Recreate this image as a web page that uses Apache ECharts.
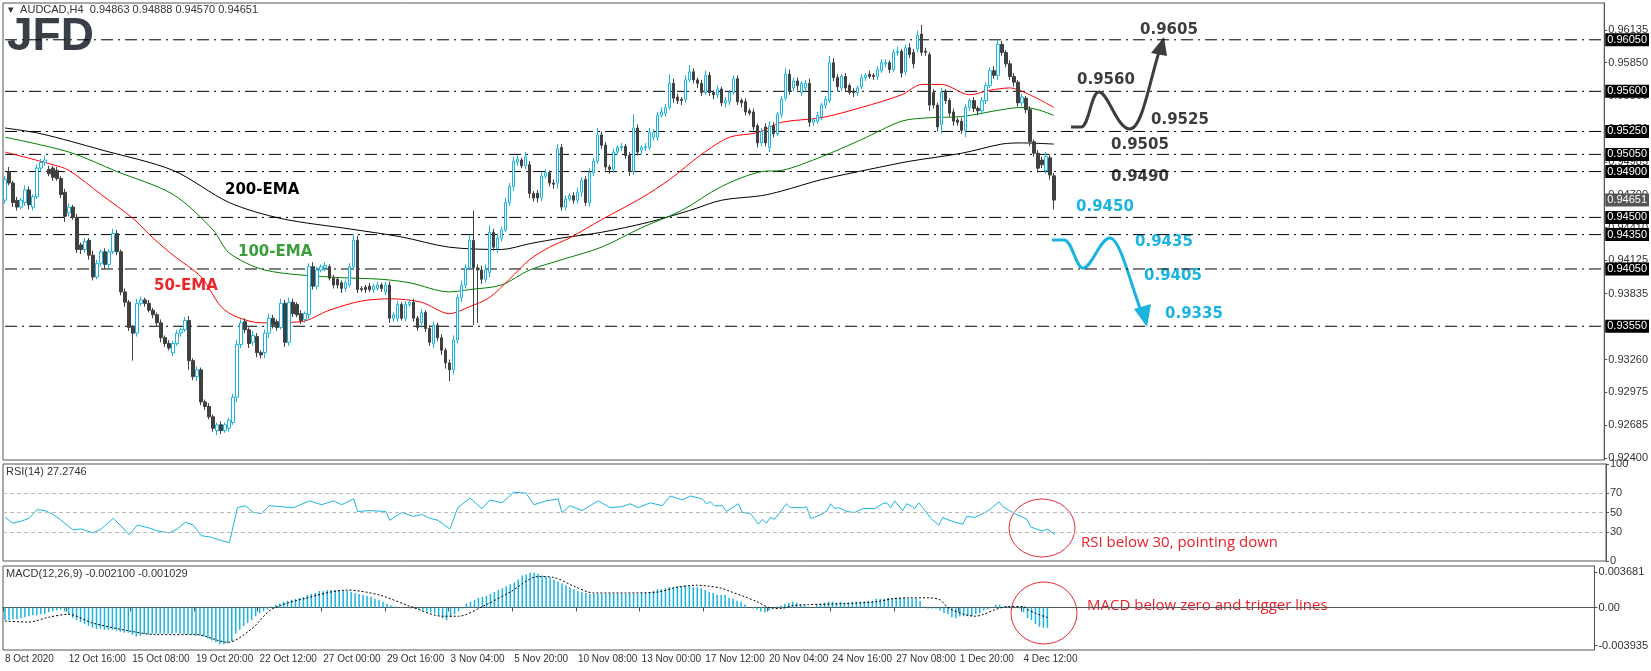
<!DOCTYPE html>
<html>
<head>
<meta charset="utf-8">
<script src="https://cdn.jsdelivr.net/npm/echarts@6/dist/echarts.min.js"></script>
<style>html,body{margin:0;padding:0;background:#fff}#chart{width:1651px;height:671px}</style>
</head>
<body>
<div id="chart"></div>
<script>
// AUDCAD H4 candles, 8 Oct - 4 Dec 2020
const opens = [
.9465,.9490,.9480,.9465,.9459,.9463,.9474,.9459,.9468,.9493,
.9498,.9492,.9493,.9491,.9484,.9472,.9454,.9459,.9450,.9426,
.9422,.9430,.9417,.9398,.9410,.9420,.9409,.9420,.9436,.9420,
.9385,.9376,.9354,.9349,.9375,.9378,.9375,.9369,.9365,.9358,
.9345,.9340,.9332,.9340,.9349,.9352,.9360,.9325,.9311,.9317,
.9289,.9285,.9276,.9264,.9269,.9264,.9266,.9271,.9293,.9339,
.9359,.9352,.9341,.9346,.9332,.9332,.9349,.9362,.9359,.9354,
.9375,.9341,.9376,.9374,.9366,.9361,.9365,.9407,.9390,.9404,
.9406,.9407,.9397,.9396,.9393,.9388,.9391,.9407,.9430,.9388,
.9389,.9390,.9387,.9388,.9391,.9385,.9391,.9362,.9362,.9374,
.9362,.9374,.9376,.9362,.9358,.9367,.9353,.9340,.9356,.9345,
.9334,.9323,.9317,.9343,.9380,.9391,.9406,.9430,.9406,.9404,
.9396,.9402,.9437,.9423,.9432,.9439,.9463,.9477,.9498,.9500,
.9495,.9496,.9471,.9471,.9467,.9486,.9489,.9480,.9480,.9511,
.9459,.9466,.9469,.9465,.9472,.9483,.9463,.9489,.9499,.9522,
.9513,.9494,.9492,.9507,.9511,.9512,.9504,.9490,.9528,.9509,
.9511,.9511,.9520,.9520,.9539,.9541,.9546,.9567,.9555,.9553,
.9553,.9570,.9577,.9570,.9567,.9559,.9574,.9559,.9557,.9562,
.9550,.9551,.9559,.9571,.9552,.9551,.9543,.9542,.9530,.9515,
.9529,.9511,.9530,.9523,.9540,.9554,.9575,.9563,.9569,.9559,
.9563,.9567,.9533,.9534,.9538,.9548,.9552,.9585,.9572,.9563,
.9573,.9565,.9560,.9559,.9564,.9572,.9575,.9574,.9573,.9578,
.9584,.9585,.9579,.9594,.9595,.9577,.9598,.9594,.9597,.9610,
.9595,.9592,.9559,.9548,.9531,.9559,.9552,.9542,.9535,.9534,
.9526,.9546,.9552,.9545,.9543,.9552,.9565,.9578,.9574,.9601,
.9594,.9584,.9573,.9568,.9550,.9554,.9544,.9516,.9506,.9500,
.9491,.9502,.94863];
const closes = [
.9483,.9480,.9463,.9459,.9465,.9474,.9461,.9468,.9493,.9498,
.9500,.9488,.9485,.9484,.9470,.9451,.9459,.9450,.9422,.9422,
.9429,.9417,.9398,.9410,.9420,.9409,.9420,.9436,.9420,.9385,
.9376,.9354,.9349,.9375,.9378,.9375,.9369,.9365,.9358,.9345,
.9340,.9336,.9340,.9349,.9352,.9360,.9325,.9311,.9317,.9289,
.9285,.9276,.9266,.9269,.9264,.9269,.9273,.9293,.9339,.9358,
.9352,.9340,.9347,.9332,.9330,.9349,.9362,.9356,.9354,.9375,
.9341,.9376,.9366,.9365,.9360,.9366,.9407,.9390,.9404,.9407,
.9408,.9397,.9391,.9391,.9388,.9393,.9407,.9430,.9387,.9387,
.9387,.9387,.9390,.9391,.9388,.9391,.9362,.9365,.9374,.9362,
.9374,.9376,.9362,.9354,.9367,.9353,.9341,.9356,.9345,.9334,
.9323,.9317,.9343,.9380,.9391,.9406,.9430,.9406,.9404,.9396,
.9404,.9437,.9424,.9432,.9439,.9463,.9477,.9499,.9501,.9495,
.9503,.9471,.9467,.9467,.9486,.9489,.9480,.9479,.9510,.9459,
.9466,.9469,.9465,.9472,.9482,.9463,.9489,.9499,.9522,.9513,
.9494,.9492,.9507,.9511,.9512,.9504,.9490,.9528,.9507,.9511,
.9512,.9524,.9524,.9539,.9542,.9546,.9567,.9554,.9552,.9552,
.9570,.9577,.9570,.9567,.9559,.9574,.9559,.9557,.9562,.9550,
.9552,.9559,.9571,.9551,.9550,.9542,.9541,.9529,.9515,.9525,
.9515,.9530,.9523,.9540,.9553,.9575,.9560,.9569,.9565,.9567,
.9567,.9533,.9535,.9539,.9548,.9553,.9585,.9572,.9564,.9573,
.9563,.9559,.9559,.9563,.9572,.9574,.9573,.9573,.9579,.9585,
.9585,.9579,.9594,.9595,.9576,.9598,.9592,.9584,.9609,.9594,
.9594,.9548,.9548,.9529,.9559,.9552,.9541,.9534,.9533,.9526,
.9546,.9552,.9545,.9543,.9552,.9565,.9578,.9574,.9601,.9594,
.9584,.9573,.9568,.9550,.9555,.9544,.9516,.9506,.9493,.9496,
.9503,.9487,.94651];
// wick lengths above / below the body, in pips
const wickUp = [
3,4,2,3,2,4,3,2,3,3, 4,3,2,3,2,3,3,2,3,2, 3,2,4,3,2,3,2,4,3,2, 3,2,2,4,3,2,3,2,2,3,
2,3,2,3,2,3,4,2,3,2, 2,3,2,2,3,2,2,3,4,3, 3,2,4,3,2,3,4,3,2,4, 3,4,3,2,3,2,3,4,3,2,
3,2,3,2,2,3,3,5,4,2, 2,3,2,3,2,3,3,2,3,2, 3,2,3,2,3,2,3,3,2,3, 2,3,4,3,4,3,5,26,3,4,
5,6,3,4,3,4,3,4,3,2, 4,3,2,3,4,3,2,3,4,3, 3,2,3,4,3,3,4,3,6,3, 3,2,3,2,3,2,3,12,3,2,
3,4,3,3,4,3,8,4,3,2, 4,6,3,2,3,4,3,2,3,2, 3,2,3,3,2,3,2,3,2,3, 3,4,3,2,3,5,4,3,3,2,
3,4,2,3,2,3,6,4,3,2, 3,2,3,2,3,2,3,2,3,3, 3,2,3,4,2,3,4,3,4,8, 3,2,3,2,4,3,2,3,2,3,
3,2,3,2,3,3,3,4,5,3, 2,3,3,2,3,2,3,2,3,3, 4,3,2.5];
const wickDown = [
3,2,4,3,2,3,4,3,2,3, 3,2,3,2,3,5,3,2,3,4, 3,4,3,2,3,4,3,2,3,3, 4,3,24,3,2,3,2,3,3,4,
3,2,3,2,3,2,8,3,4,3, 3,2,3,4,3,2,3,2,4,3, 3,4,3,4,3,5,4,3,3,2, 4,3,3,2,3,3,4,3,3,2,
3,2,3,3,4,3,2,3,3,2, 3,2,3,2,3,3,4,3,3,2, 3,2,3,3,4,3,3,4,3,4, 5,10,4,3,4,3,2,50,46,4,
3,4,3,4,3,2,3,4,3,2, 3,4,3,4,3,2,3,4,5,3, 3,2,3,3,4,3,4,3,2,3, 3,4,3,2,3,3,4,3,3,4,
3,2,3,3,2,3,2,4,3,4, 3,2,3,4,3,2,3,4,3,3, 4,3,2,3,4,3,2,3,4,3, 3,4,3,2,3,2,3,3,4,3,
3,4,3,2,3,3,2,3,4,3, 3,2,4,3,2,3,2,3,3,2, 3,3,2,3,4,3,3,4,3,3, 3,5,3,4,8,3,3,4,3,3,
6,3,3,4,3,3,2,3,4,3, 3,3,4,3,3,3,4,3,4,3, 3,4,8.1];

// moving averages read at key bars: [bar, value]
const ema50 = [[0,.9507],[12,.9496],[16,.9491],[24,.9470],[32,.9449],[37,.9432],[42,.9417],[49,.9398],[54,.9372],[58,.9363],[64,.9358],[74,.9359],[81,.9369],[89,.9377],[96,.9379],[104,.9376],[111,.9366],[116,.9372],[121,.9380],[126,.9396],[131,.9413],[136,.9424],[141,.9432],[149,.9448],[159,.9467],[166,.9483],[174,.9505],[181,.9520],[188,.9524],[194,.9533],[204,.9537],[214,.9546],[224,.9557],[229,.9566],[234,.9566],[241,.9557],[246,.9561],[251,.9563],[256,.9557],[262,.9546]];
const ema100 = [[0,.9520],[16,.9507],[28,.9490],[42,.9470],[52,.9439],[56,.9419],[65,.9404],[81,.9398],[94,.9396],[101,.9393],[111,.9385],[116,.9387],[124,.9391],[131,.9404],[139,.9413],[149,.9424],[159,.9441],[169,.9456],[179,.9477],[189,.9490],[194,.9491],[204,.9503],[214,.9518],[224,.9534],[231,.9537],[239,.9538],[249,.9544],[254,.9546],[258,.9544],[262,.9539]];
const ema200 = [[0,.9528],[9,.9523],[24,.9509],[42,.9491],[56,.9463],[69,.9449],[86,.9440],[99,.9433],[111,.9424],[124,.9422],[131,.9427],[139,.9432],[149,.9437],[161,.9446],[171,.9456],[179,.9465],[189,.9469],[194,.9473],[204,.9483],[216,.9492],[226,.9499],[239,.9506],[249,.9514],[254,.9515],[262,.9514]];

const rsi = [[0,45],[2,39],[4,41],[6,44],[8,53],[10,52],[12,48],[14,42],[17,32],[19,33],[22,29],[24,33],[27,44],[29,36],[31,27],[33,37],[36,34],[38,31],[41,29],[43,33],[45,40],[47,37],[49,26],[51,25],[54,21],[56,19],[58,55],[60,57],[62,50],[64,49],[66,57],[69,56],[72,55],[76,62],[79,58],[82,62],[84,58],[87,64],[88,51],[91,52],[95,51],[96,42],[99,50],[102,46],[104,48],[106,44],[108,42],[111,33],[113,55],[116,65],[119,54],[121,63],[124,60],[127,71],[130,70],[132,58],[135,62],[138,64],[139,50],[141,57],[144,52],[148,62],[151,55],[154,56],[156,59],[158,55],[161,60],[164,57],[166,67],[169,63],[171,67],[174,64],[175,59],[176,61],[177,57],[179,57],[180,51],[183,59],[184,50],[186,49],[188,38],[189,43],[190,39],[191,45],[192,43],[195,59],[196,55],[199,55],[200,56],[201,44],[202,45],[205,51],[206,59],[207,54],[208,55],[210,51],[212,50],[214,54],[217,54],[219,59],[220,60],[221,55],[222,62],[224,52],[225,59],[226,57],[227,54],[228,60],[229,55],[231,44],[233,37],[234,45],[235,43],[237,40],[239,38],[240,46],[242,45],[243,47],[245,51],[246,54],[248,61],[249,56],[251,51],[252,49],[254,45],[255,43],[256,35],[258,32],[259,31],[260,33],[262,27.27]];

// MACD histogram per bar and signal line at key bars, in units of 0.0001
const macdHist = [
-13,-13,-12,-12,-11,-10,-9,-8,-8,-7, -7,-5,-4,-3,-2,-4,-7,-11,-13,-15,
-17,-19,-21,-22,-22,-23,-23,-23,-24,-25, -26,-26,-28,-30,-29,-28,-28,-27,-27,-27,
-27,-27,-27,-26,-27,-27,-28,-28,-29,-29, -30,-32,-34,-36,-38,-38,-37,-35,-27,-23,
-19,-16,-13,-9,-6,-4,-2,1,3,4, 6,7,8,9,10,11,13,14,15,17,
17,18,18,18,18,17,17,16,15,14, 13,12,11,9,8,6,4,2,1,0,
0,0,-1,-1,-2,-3,-4,-5,-6,-8, -11,-13,-10,-7,-4,-1,4,6,8,10,
11,12,14,16,18,20,22,24,26,29, 33,34,36,36,35,33,32,31,29,27,
25,23,21,19,17,16,15,14,14,14, 14,14,14,14,14,14,14,14,14,14,
15,15,16,17,19,19,20,21,21,22, 22,23,22,21,21,20,18,16,15,13,
13,13,10,9,7,6,3,0,-1,-2, -4,-5,-3,0,1,2,4,5,6,5,
3,2,1,0,3,4,5,6,6,5, 6,5,5,6,6,6,6,7,7,9,
9,9,10,10,10,10,10,9,9,9, 7,1,-1,-1,-1,-3,-6,-7,-10,-11,
-9,-9,-9,-9,-7,-6,-3,-2,0,3, 3,1,1,1,0,-1,-5,-11,-13,-17,
-20,-21,-21];
const macdSignal = [[0,-14],[6,-15],[11,-10],[16,-7],[22,-16],[31,-24],[38,-28],[48,-28],[56,-36],[62,-22],[67,-2],[75,9],[86,18],[94,13],[102,1],[110,-9],[114,-9],[120,1],[127,16],[134,32],[138,31],[143,22],[148,15],[156,15],[164,16],[169,21],[174,23],[177,22],[180,20],[182,17],[186,11],[189,6],[192,0],[195,-1],[198,2],[202,3],[211,4],[219,6],[223,9],[227,10],[232,10],[235,8],[237,0],[241,-7],[244,-9],[246,-7],[249,-2],[252,1],[256,1],[257,-2],[259,-6],[262,-10.29]];

const levels = [0.9605, 0.9560, 0.9525, 0.9505, 0.9490, 0.9450, 0.9435, 0.9405, 0.9355];
const lastPrice = 0.94651;
const priceTicks = [0.96135, 0.95850, 0.95560, 0.95270, 0.94985, 0.94700, 0.94410, 0.94125, 0.93835, 0.93550, 0.93260, 0.92975, 0.92685, 0.92400];
const rsiTicks = [0, 30, 50, 70, 100];
const macdTicks = [-0.003935, 0, 0.003681];
const dateTicks = ['8 Oct 2020','12 Oct 16:00','15 Oct 08:00','19 Oct 20:00','22 Oct 12:00','27 Oct 00:00','29 Oct 16:00','3 Nov 04:00','5 Nov 20:00','10 Nov 08:00','13 Nov 00:00','17 Nov 12:00','20 Nov 04:00','24 Nov 16:00','27 Nov 08:00','1 Dec 20:00','4 Dec 12:00'];
const N_SLOTS = 400;

const CYAN = '#1ab4e0', DARK = '#404040';
const cats = [];
for (let i = 0; i < N_SLOTS; i++) cats.push(i);
const candles = opens.map((o, i) => {
  const c = closes[i];
  return [o, c, Math.min(o, c) - wickDown[i] / 10000, Math.max(o, c) + wickUp[i] / 10000];
});
const histData = macdHist.map(v => v / 10000);
const signalData = macdSignal.map(p => [p[0], p[1] / 10000]);

const chart = echarts.init(document.getElementById('chart'));
const axisFont = { fontFamily: 'Liberation Sans', fontSize: 11, color: '#333' };
const grids = [
  { left: 3, right: 45, top: 3, height: 457 },
  { left: 3, right: 45, top: 464, height: 97 },
  { left: 3, right: 45, top: 566, height: 84 }
];
const tickAt = i => i % 16 === 0 && i / 16 < dateTicks.length;
const xAxes = grids.map((g, k) => ({
  type: 'category', gridIndex: k, data: cats, boundaryGap: true,
  axisLine: { show: k === 2, lineStyle: { color: '#555' } },
  axisTick: { show: k === 2, interval: tickAt, length: 4, lineStyle: { color: '#555' } },
  axisLabel: {
    show: k === 2, interval: tickAt, hideOverlap: false,
    formatter: v => dateTicks[Number(v) / 16] || '', align: 'left', margin: 4, ...axisFont, fontSize: 10
  },
  splitLine: { show: false }
}));
function valueAxis(k, min, max, ticks, fmt) {
  return {
    type: 'value', gridIndex: k, position: 'right', min, max,
    axisLine: { show: true, lineStyle: { color: '#555' } },
    axisTick: { show: true, customValues: ticks, length: 3, lineStyle: { color: '#555' } },
    axisLabel: { customValues: ticks, formatter: fmt, margin: 4, ...axisFont },
    splitLine: { show: false }
  };
}
// each level is a flat line across the panel with its value boxed on the price scale
function levelSeries(v, boxColor, visible) {
  return {
    type: 'line', xAxisIndex: 0, yAxisIndex: 0, silent: true, showSymbol: false, z: 1,
    data: [[0, v], [N_SLOTS - 1, v]],
    lineStyle: visible ? { color: '#000', width: 1, type: [12, 5, 2, 5] } : { opacity: 0 },
    endLabel: {
      show: true, formatter: v.toFixed(5), distance: 3, padding: [1, 2],
      backgroundColor: boxColor, color: '#fff', fontFamily: 'Liberation Sans', fontSize: 11
    }
  };
}

const boldFont = 'bold 15px "DejaVu Sans"';
const darkArrow = '#3d3d3d';
function txt(x, y, text, fill, font) {
  return { type: 'text', x, y, style: { text, fill, font: font || boldFont } };
}
function curve(p, color) {
  return { type: 'bezierCurve', shape: { x1: p[0], y1: p[1], cpx1: p[2], cpy1: p[3], cpx2: p[4], cpy2: p[5], x2: p[6], y2: p[7] },
    style: { stroke: color, lineWidth: 3, fill: null } };
}
function ring(cx, cy, rx, ry) {
  return { type: 'circle', x: cx, y: cy, scaleY: ry / rx, shape: { cx: 0, cy: 0, r: rx },
    style: { stroke: '#e8202a', lineWidth: 1, fill: null, strokeNoScale: true } };
}

chart.setOption({
  animation: false,
  grid: grids.map(g => ({ ...g, show: true, borderColor: '#555', borderWidth: 1 })),
  xAxis: xAxes,
  yAxis: [
    valueAxis(0, 0.92383, 0.96371, priceTicks, v => v.toFixed(5)),
    valueAxis(1, 0, 100, rsiTicks, v => String(v)),
    valueAxis(2, -0.00439, 0.00429, macdTicks, v => v === 0 ? '0.00' : v.toFixed(6))
  ],
  series: [
    ...levels.map(v => levelSeries(v, '#000', true)),
    levelSeries(lastPrice, '#555', false),
    {
      type: 'candlestick', xAxisIndex: 0, yAxisIndex: 0, data: candles, barWidth: 3, z: 3,
      itemStyle: { color: '#fff', color0: DARK, borderColor: CYAN, borderColor0: DARK, borderWidth: 1 }
    },
    { type: 'line', xAxisIndex: 0, yAxisIndex: 0, data: ema200, showSymbol: false, smooth: 0.3, lineStyle: { color: '#000', width: 1 } },
    { type: 'line', xAxisIndex: 0, yAxisIndex: 0, data: ema100, showSymbol: false, smooth: 0.3, lineStyle: { color: '#008000', width: 1 } },
    { type: 'line', xAxisIndex: 0, yAxisIndex: 0, data: ema50, showSymbol: false, smooth: 0.3, lineStyle: { color: '#ff0000', width: 1 } },
    {
      type: 'line', xAxisIndex: 1, yAxisIndex: 1, data: rsi, showSymbol: false, lineStyle: { color: CYAN, width: 1 },
      markLine: {
        silent: true, symbol: 'none', label: { show: false },
        lineStyle: { color: '#bbb', type: [4, 3], width: 1 },
        data: [{ yAxis: 30 }, { yAxis: 50 }, { yAxis: 70 }]
      }
    },
    { type: 'bar', xAxisIndex: 2, yAxisIndex: 2, data: histData, barWidth: 1.5, itemStyle: { color: CYAN } },
    { type: 'line', xAxisIndex: 2, yAxisIndex: 2, data: signalData, showSymbol: false, smooth: 0.3, lineStyle: { color: '#000', width: 1, type: [2, 2] } }
  ],
  graphic: [
    txt(8, 4, '\u25BE  AUDCAD,H4  0.94863 0.94888 0.94570 0.94651', '#333', '11px "Liberation Sans"'),
    txt(7, 14, 'JFD', '#3a3f47', 'bold 46px "Liberation Sans"'),
    txt(6, 466, 'RSI(14) 27.2746', '#333', '11px "Liberation Sans"'),
    txt(6, 568, 'MACD(12,26,9) -0.002100 -0.001029', '#333', '11px "Liberation Sans"'),
    txt(225, 183, '200-EMA', '#000'),
    txt(238, 245, '100-EMA', '#3a9e3a'),
    txt(154, 279, '50-EMA', '#e8282c'),
    // bullish scenario
    { type: 'line', shape: { x1: 1071, y1: 127, x2: 1081, y2: 127 }, style: { stroke: darkArrow, lineWidth: 3 } },
    curve([1081, 127, 1089, 127, 1091, 92, 1099, 92], darkArrow),
    curve([1099, 92, 1108, 92, 1117, 129, 1130, 129], darkArrow),
    curve([1130, 129, 1142, 129, 1150, 80, 1159, 52], darkArrow),
    { type: 'polygon', shape: { points: [[1164, 37], [1151, 53], [1167, 56]] }, style: { fill: darkArrow } },
    txt(1140, 23, '0.9605', darkArrow),
    txt(1077, 73, '0.9560', darkArrow),
    txt(1151, 113, '0.9525', darkArrow),
    txt(1111, 138, '0.9505', darkArrow),
    txt(1111, 170, '0.9490', darkArrow),
    // bearish scenario
    { type: 'line', shape: { x1: 1052, y1: 240, x2: 1064, y2: 240 }, style: { stroke: CYAN, lineWidth: 3 } },
    curve([1064, 240, 1072, 240, 1076, 268, 1083, 268], CYAN),
    curve([1083, 268, 1092, 268, 1100, 238, 1110, 238], CYAN),
    curve([1110, 238, 1120, 238, 1131, 285, 1141, 311], CYAN),
    { type: 'polygon', shape: { points: [[1147, 327], [1134, 309], [1151, 304]] }, style: { fill: CYAN } },
    txt(1076, 200, '0.9450', CYAN),
    txt(1135, 235, '0.9435', CYAN),
    txt(1144, 269, '0.9405', CYAN),
    txt(1165, 307, '0.9335', CYAN),
    // indicator remarks
    ring(1042, 528, 33, 29),
    ring(1044, 613, 33, 31),
    txt(1081, 535, 'RSI below 30, pointing down', '#e8202a', '15px "Open Sans"'),
    txt(1087, 598, 'MACD below zero and trigger lines', '#e8202a', '15px "Open Sans"')
  ]
});
</script>
</body>
</html>
